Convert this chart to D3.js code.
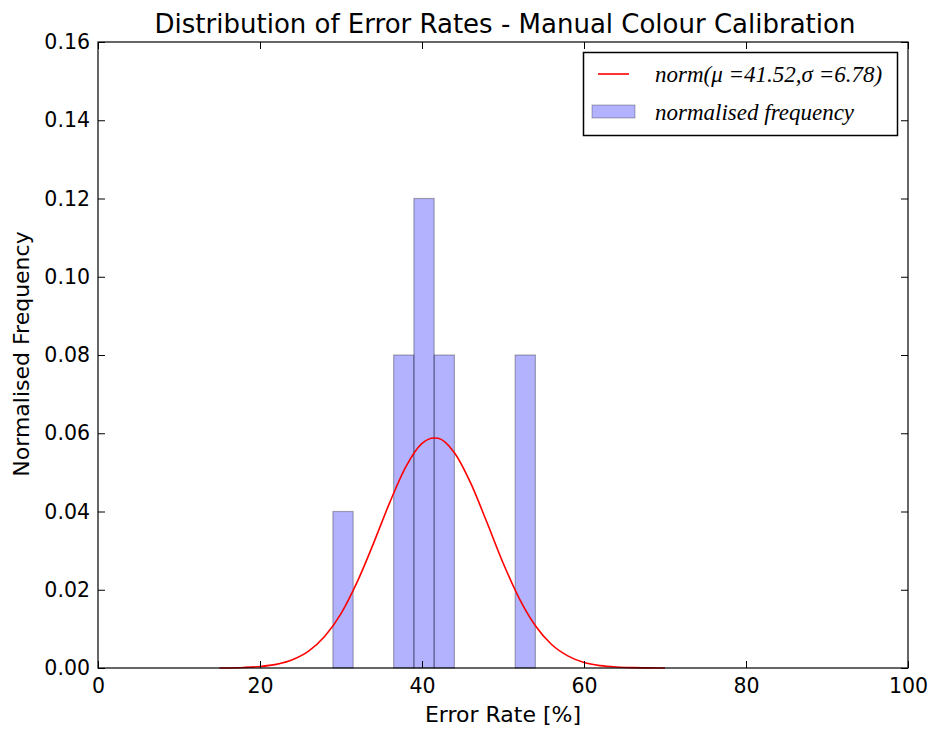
<!DOCTYPE html>
<html>
<head>
<meta charset="utf-8">
<script src="https://cdn.jsdelivr.net/npm/d3@7"></script>
<style>
  body { margin: 0; background: #fff; }
  text { font-family: "DejaVu Sans", sans-serif; fill: #000; }
  .legend text { font-family: "Liberation Serif", "DejaVu Serif", serif; font-style: italic; }
</style>
</head>
<body>
<script>
// Histogram bins (left edge, width 2.5) and normalised frequency
var binStarts = [29, 36.5, 39, 41.5, 51.5];
var binWidth = 2.5;
var binFreq = [0.04, 0.08, 0.12, 0.08, 0.08];

// Fitted normal curve
var curveX = [15, 18, 20, 22, 24, 26, 28, 30, 32, 34, 36, 38, 40, 41.5, 42, 44, 46, 48, 50, 52, 54, 56, 58, 60, 62, 64, 66, 68, 70];
var curveY = [0.00001, 0.00014, 0.00038, 0.00093, 0.0021, 0.0043, 0.0081, 0.0139, 0.0220, 0.0318, 0.0422, 0.0514, 0.0574, 0.0588, 0.0587, 0.0550, 0.0473, 0.0373, 0.0269, 0.0178, 0.0108, 0.0060, 0.0031, 0.0014, 0.0006, 0.00024, 0.00009, 0.00003, 0.00001];

var xTicks = [0, 20, 40, 60, 80, 100];
var yTicks = [0, 0.02, 0.04, 0.06, 0.08, 0.10, 0.12, 0.14, 0.16];

var legendLabels = ["norm(\u03bc =41.52,\u03c3 =6.78)", "normalised frequency"];

var W = 933, H = 729;
var margin = {top: 42, right: 25, bottom: 61, left: 98},
    width = W - margin.left - margin.right,
    height = H - margin.top - margin.bottom;

var svg = d3.select("body").append("svg")
    .attr("width", W)
    .attr("height", H);

var g = svg.append("g")
    .attr("transform", "translate(" + margin.left + "," + margin.top + ")");

var x = d3.scaleLinear().domain([0, 100]).range([0, width]);
var y = d3.scaleLinear().domain([0, 0.16]).range([height, 0]);

// Bars
g.selectAll(".bar")
    .data(binStarts.map((s, i) => ({x0: s, f: binFreq[i]})))
    .enter().append("rect")
    .attr("class", "bar")
    .attr("x", d => x(d.x0))
    .attr("width", d => x(d.x0 + binWidth) - x(d.x0))
    .attr("y", d => y(d.f))
    .attr("height", d => height - y(d.f))
    .attr("fill", "blue")
    .attr("fill-opacity", 0.3)
    .attr("stroke", "black")
    .attr("stroke-opacity", 0.3)
    .attr("stroke-width", 1.2);

// Normal curve
var line = d3.line()
    .x((d, i) => x(curveX[i]))
    .y(d => y(d))
    .curve(d3.curveMonotoneX);

g.append("path")
    .datum(curveY)
    .attr("d", line)
    .attr("fill", "none")
    .attr("stroke", "red")
    .attr("stroke-width", 1.6);

// Axes (ticks inside, on all four sides)
var tickLen = 7;
g.append("g")
    .attr("transform", "translate(0," + height + ")")
    .call(d3.axisBottom(x).tickValues(xTicks).tickSizeInner(-tickLen).tickSizeOuter(0).tickPadding(10))
    .call(a => a.selectAll("text").style("font-size", "20.5px").attr("font-family", "DejaVu Sans"));
g.append("g")
    .call(d3.axisTop(x).tickValues(xTicks).tickSizeInner(-tickLen).tickSizeOuter(0).tickFormat(""));
g.append("g")
    .call(d3.axisLeft(y).tickValues(yTicks).tickSizeInner(-tickLen).tickSizeOuter(0).tickPadding(8).tickFormat(d3.format(".2f")))
    .call(a => a.selectAll("text").style("font-size", "20.5px").attr("font-family", "DejaVu Sans"));
g.append("g")
    .attr("transform", "translate(" + width + ",0)")
    .call(d3.axisRight(y).tickValues(yTicks).tickSizeInner(-tickLen).tickSizeOuter(0).tickFormat(""));
g.selectAll(".domain").remove();
g.selectAll(".tick line").attr("stroke", "#000");

// Frame
g.append("rect")
    .attr("width", width)
    .attr("height", height)
    .attr("fill", "none")
    .attr("stroke", "#000")
    .attr("stroke-width", 1.2);

// Title and axis labels
svg.append("text")
    .attr("x", margin.left + width / 2 + 2)
    .attr("y", 33)
    .style("text-anchor", "middle")
    .style("font-size", "26px")
    .text("Distribution of Error Rates - Manual Colour Calibration");

svg.append("text")
    .attr("x", margin.left + width / 2)
    .attr("y", 722)
    .style("text-anchor", "middle")
    .style("font-size", "22px")
    .text("Error Rate [%]");

svg.append("text")
    .attr("transform", "rotate(-90)")
    .attr("x", -(margin.top + height / 2) + 1)
    .attr("y", 29)
    .style("text-anchor", "middle")
    .style("font-size", "22px")
    .text("Normalised Frequency");

// Legend
var leg = svg.append("g").attr("class", "legend");
leg.append("rect")
    .attr("x", 583.5).attr("y", 52.5)
    .attr("width", 314).attr("height", 83)
    .attr("fill", "#fff")
    .attr("stroke", "#000")
    .attr("stroke-width", 1.5);
leg.append("line")
    .attr("x1", 598).attr("x2", 629)
    .attr("y1", 74).attr("y2", 74)
    .attr("stroke", "red").attr("stroke-width", 1.6);
leg.append("rect")
    .attr("x", 592).attr("y", 105)
    .attr("width", 43).attr("height", 13)
    .attr("fill", "blue").attr("fill-opacity", 0.3)
    .attr("stroke", "black").attr("stroke-opacity", 0.3);
leg.selectAll(".lt")
    .data(legendLabels)
    .enter().append("text")
    .attr("class", "lt")
    .attr("x", 655)
    .attr("y", (d, i) => 82 + i * 38)
    .style("font-size", "23px")
    .text(d => d);
</script>
</body>
</html>
